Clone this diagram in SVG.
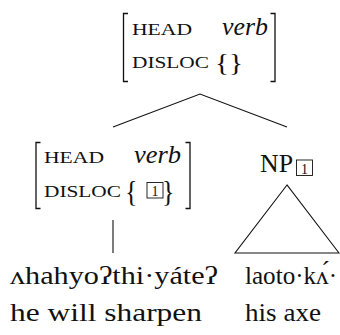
<svg xmlns="http://www.w3.org/2000/svg" width="340" height="335" viewBox="0 0 340 335">
<style>
text{font-family:'Liberation Serif','DejaVu Serif','Noto Serif',serif;fill:#111}
.sc{font-size:17px}
.it{font-style:italic;font-size:25px}
.br{font-size:25px}
.big{font-size:26px}
.sub{font-size:14px}
.ln{stroke:#111;stroke-width:1.1;fill:none}
.bk{stroke:#111;stroke-width:1.3;fill:none}
.bx{stroke:#111;stroke-width:0.9;fill:none}
</style>
<rect width="340" height="335" fill="#fff"/>
<g id="top">
<path class="bk" d="M128,13.5 H123.5 V81.5 H128"/>
<path class="bk" d="M270.5,13.5 H275 V81.5 H270.5"/>
<text class="sc" x="132" y="35" textLength="60" lengthAdjust="spacingAndGlyphs">HEAD</text>
<text class="it" x="222" y="35" textLength="46" lengthAdjust="spacingAndGlyphs">verb</text>
<text class="sc" x="132" y="68" textLength="77" lengthAdjust="spacingAndGlyphs">DISLOC</text>
<text class="br" x="215" y="71" textLength="28" lengthAdjust="spacingAndGlyphs">{}</text>
</g>
<g id="left">
<path class="bk" d="M40.5,142.5 H36 V208.5 H40.5"/>
<path class="bk" d="M185.5,142.5 H190 V208.5 H185.5"/>
<text class="sc" x="44" y="163" textLength="60" lengthAdjust="spacingAndGlyphs">HEAD</text>
<text class="it" x="134" y="163" textLength="47" lengthAdjust="spacingAndGlyphs">verb</text>
<text class="sc" x="44" y="197" textLength="77" lengthAdjust="spacingAndGlyphs">DISLOC</text>
<text class="big" x="125" y="201" transform="translate(125,201) scale(1,1.1) translate(-125,-201)">{</text>
<rect class="bx" x="147" y="182.5" width="16" height="15.5"/>
<text class="sub" x="155" y="196" text-anchor="middle">1</text>
<text class="big" x="162" y="201" transform="translate(162,201) scale(1,1.1) translate(-162,-201)">}</text>
</g>
<g id="np">
<text class="big" x="260" y="172" textLength="33" lengthAdjust="spacingAndGlyphs">NP</text>
<rect class="bx" x="296.5" y="160" width="16" height="15.5"/>
<text class="sub" x="304.5" y="173.5" text-anchor="middle">1</text>
</g>
<g id="connectors">
<path class="ln" d="M113,127 L200,94 L287,127"/>
<path class="ln" d="M113,220 V253"/>
<path class="ln" d="M287,185 L235,253 H339 Z"/>
</g>
<g id="verb-word">
<text class="big" x="10" y="284" textLength="208" lengthAdjust="spacingAndGlyphs">ʌhahyoʔthi·yáteʔ</text>
<text class="big" x="10" y="321" textLength="192" lengthAdjust="spacingAndGlyphs">he will sharpen</text>
</g>
<g id="np-word">
<text class="big" x="245" y="284" textLength="92" lengthAdjust="spacingAndGlyphs">laoto·kʌ́·</text>
<text class="big" x="245" y="321" textLength="76" lengthAdjust="spacingAndGlyphs">his axe</text>
</g>
</svg>
